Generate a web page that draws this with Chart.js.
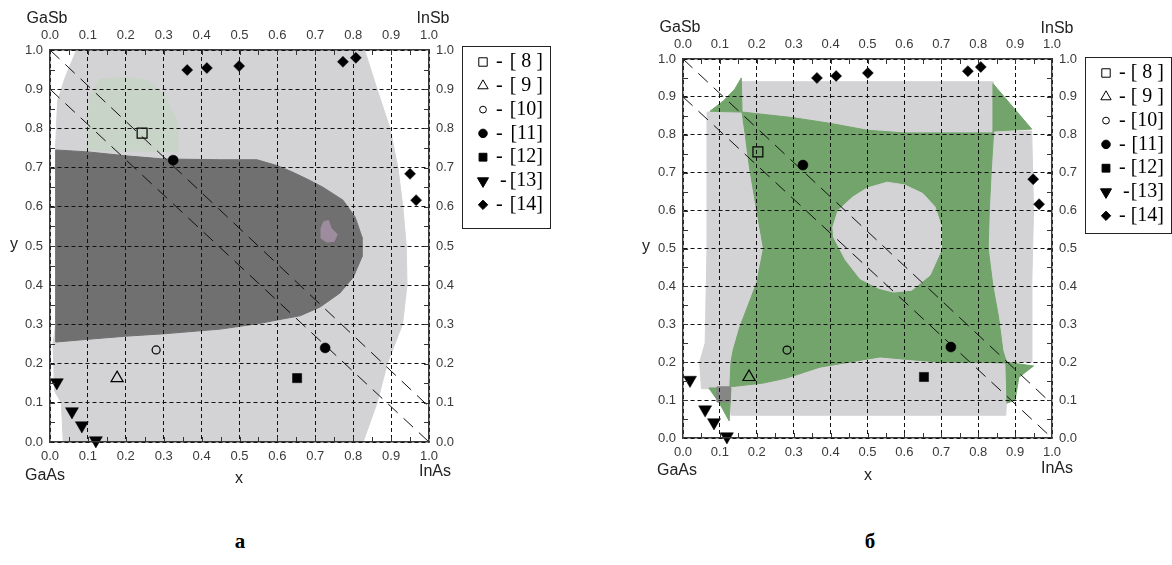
<!DOCTYPE html>
<html>
<head>
<meta charset="utf-8">
<script src="https://cdn.jsdelivr.net/npm/chart.js@4/dist/chart.umd.min.js"></script>
<style>
  body { margin: 0; background: #fff; width: 1172px; height: 565px; position: relative; overflow: hidden;
         font-family: "Liberation Sans", Arial, sans-serif; }
  canvas { position: absolute; top: 0; }
  #chartA { left: 0; }
  #chartB { left: 620px; }
  .lbl { position: absolute; font-size: 16px; color: #222; transform: translate(-50%, -50%); white-space: nowrap; }
  .let { position: absolute; font-family: "Liberation Serif", serif; font-weight: bold; font-size: 21px;
         transform: translate(-50%, -50%); }
</style>
</head>
<body>
<canvas id="chartA" width="560" height="480"></canvas>
<canvas id="chartB" width="552" height="480"></canvas>

<div class="lbl" style="left:47px;top:18px">GaSb</div>
<div class="lbl" style="left:433px;top:18px">InSb</div>
<div class="lbl" style="left:45px;top:475px">GaAs</div>
<div class="lbl" style="left:435px;top:471px">InAs</div>
<div class="lbl" style="left:239px;top:478px">x</div>
<div class="lbl" style="left:14px;top:244px">y</div>

<div class="lbl" style="left:680px;top:27px">GaSb</div>
<div class="lbl" style="left:1057px;top:28px">InSb</div>
<div class="lbl" style="left:677px;top:470px">GaAs</div>
<div class="lbl" style="left:1057px;top:468px">InAs</div>
<div class="lbl" style="left:868px;top:475px">x</div>
<div class="lbl" style="left:646px;top:246px">y</div>

<div class="let" style="left:240px;top:541px">а</div>
<div class="let" style="left:870px;top:541px">б</div>

<script>
// axis ticks
const tickValues = [0, 0.1, 0.2, 0.3, 0.4, 0.5, 0.6, 0.7, 0.8, 0.9, 1.0];
const tickLabels = ['0.0', '0.1', '0.2', '0.3', '0.4', '0.5', '0.6', '0.7', '0.8', '0.9', '1.0'];
const minorTickValues = [0.05, 0.1, 0.15, 0.2, 0.25, 0.3, 0.35, 0.4, 0.45, 0.5, 0.55, 0.6, 0.65, 0.7, 0.75, 0.8, 0.85, 0.9, 0.95];

// legend
const refLabels = ['[ 8 ]', '[ 9 ]', '[10]', '[11]', '[12]', '[13]', '[14]'];

// isoperiodic lines (x, y)
const lineGaSb = [[0, 1.0], [1.0, 0.09]];
const lineInAs = [[0, 0.9], [1.0, 0]];

// panel а - literature points
const aRef8 = [[0.243, 0.788]];
const aRef9 = [[0.177, 0.163]];
const aRef10 = [[0.28, 0.235]];
const aRef11 = [[0.325, 0.719], [0.726, 0.24]];
const aRef12 = [[0.652, 0.163]];
const aRef13 = [[0.018, 0.152], [0.058, 0.078], [0.084, 0.042], [0.121, 0.004]];
const aRef14 = [[0.362, 0.949], [0.414, 0.954], [0.499, 0.959], [0.773, 0.97], [0.807, 0.98], [0.95, 0.684], [0.966, 0.617]];

// panel а - regions
const aLight = [[0.07, 1.0], [0.83, 1.0], [0.863, 0.9], [0.897, 0.8], [0.918, 0.7], [0.931, 0.6], [0.94, 0.5],
  [0.942, 0.4], [0.93, 0.3], [0.89, 0.2], [0.863, 0.1], [0.826, 0.0], [0.035, 0.0], [0.03, 0.1], [0.012, 0.13],
  [0.008, 0.25], [0.015, 0.3], [0.015, 0.76], [0.02, 0.87], [0.04, 0.93], [0.07, 1.0]];
const aPale = [[0.105, 0.88], [0.13, 0.925], [0.2, 0.93], [0.26, 0.922], [0.3, 0.885], [0.335, 0.82],
  [0.338, 0.74], [0.1, 0.745], [0.1, 0.82], [0.105, 0.88]];
const aDark = [[0.015, 0.745], [0.1, 0.74], [0.2, 0.73], [0.3, 0.722], [0.45, 0.72], [0.546, 0.72], [0.6, 0.705],
  [0.641, 0.688], [0.68, 0.67], [0.72, 0.65], [0.773, 0.617], [0.805, 0.574], [0.823, 0.523], [0.823, 0.472],
  [0.8, 0.42], [0.765, 0.38], [0.712, 0.344], [0.66, 0.322], [0.62, 0.315], [0.55, 0.302], [0.45, 0.288],
  [0.3, 0.276], [0.2, 0.27], [0.1, 0.262], [0.015, 0.255], [0.015, 0.745]];
const aPink = [[0.715, 0.545], [0.722, 0.562], [0.735, 0.565], [0.742, 0.545], [0.758, 0.53], [0.75, 0.512],
  [0.73, 0.51], [0.715, 0.52], [0.715, 0.545]];

// panel б - literature points
const bRef8 = [[0.203, 0.755]];
const bRef9 = [[0.179, 0.161]];
const bRef10 = [[0.282, 0.232]];
const bRef11 = [[0.325, 0.72], [0.726, 0.24]];
const bRef12 = [[0.653, 0.161]];
const bRef13 = [[0.019, 0.153], [0.06, 0.075], [0.084, 0.041], [0.119, 0.004]];
const bRef14 = [[0.363, 0.95], [0.415, 0.955], [0.501, 0.963], [0.772, 0.968], [0.807, 0.979], [0.949, 0.683], [0.965, 0.617]];

// panel б - regions
const bLight = [[0.155, 0.94], [0.84, 0.94], [0.84, 0.81], [0.945, 0.81], [0.95, 0.6], [0.945, 0.4], [0.945, 0.2],
  [0.88, 0.2], [0.875, 0.06], [0.13, 0.06], [0.125, 0.13], [0.05, 0.13], [0.045, 0.2], [0.06, 0.25],
  [0.065, 0.5], [0.065, 0.86], [0.155, 0.86], [0.155, 0.94]];
const bGreen = [[0.16, 0.86], [0.3, 0.845], [0.4, 0.83], [0.5, 0.812], [0.6, 0.805], [0.84, 0.805], [0.84, 0.935],
  [0.945, 0.815], [0.842, 0.81], [0.835, 0.7], [0.83, 0.6], [0.827, 0.5], [0.84, 0.4], [0.855, 0.32],
  [0.867, 0.23], [0.877, 0.2], [0.95, 0.19], [0.91, 0.16], [0.9, 0.1], [0.878, 0.092], [0.875, 0.198],
  [0.8, 0.2], [0.7, 0.2], [0.6, 0.208], [0.534, 0.214], [0.45, 0.2], [0.371, 0.187], [0.28, 0.158],
  [0.218, 0.145], [0.127, 0.135], [0.13, 0.2], [0.136, 0.232], [0.154, 0.293], [0.2, 0.41], [0.218, 0.5],
  [0.195, 0.628], [0.18, 0.715], [0.168, 0.805], [0.16, 0.86], [0.073, 0.862], [0.11, 0.89], [0.14, 0.92],
  [0.158, 0.95], [0.16, 0.86]];
const bHole = [[0.553, 0.675], [0.6, 0.668], [0.65, 0.645], [0.683, 0.61], [0.7, 0.56], [0.7, 0.496], [0.67, 0.43],
  [0.62, 0.39], [0.57, 0.385], [0.53, 0.395], [0.48, 0.42], [0.44, 0.47], [0.408, 0.53], [0.406, 0.557],
  [0.42, 0.6], [0.46, 0.636], [0.5, 0.66], [0.553, 0.675]];
const bGreenCorner = [[0.07, 0.132], [0.13, 0.132], [0.125, 0.045], [0.1, 0.09], [0.07, 0.132]];
const bDarkBit = [[0.092, 0.135], [0.127, 0.135], [0.127, 0.095], [0.092, 0.095], [0.092, 0.135]];

const LIGHT = '#d3d2d5';
const PALE = '#c9d4c8';
const DARK = '#707070';
const GREEN = '#72a46b';

const toXY = arr => arr.map(p => ({ x: p[0], y: p[1] }));

function region(poly, color, order) {
  return {
    type: 'line', data: toXY(poly), fill: 'shape', backgroundColor: color, borderColor: color,
    borderWidth: 1, pointRadius: 0, tension: 0, order: order
  };
}

function dashLine(pts) {
  return {
    type: 'line', data: toXY(pts), fill: false, borderColor: '#111', borderWidth: 1,
    borderDash: [13, 8], pointRadius: 0, order: 2
  };
}

// marker styles per reference, same order as refLabels
const refStyles = [
  { style: 'rect', r: 7, filled: false, rot: 0 },
  { style: 'triangle', r: 7, filled: false, rot: 0 },
  { style: 'circle', r: 4, filled: false, rot: 0 },
  { style: 'circle', r: 5, filled: true, rot: 0 },
  { style: 'rect', r: 6.5, filled: true, rot: 0 },
  { style: 'triangle', r: 7.5, filled: true, rot: 180 },
  { style: 'rectRot', r: 5.5, filled: true, rot: 0 }
];

function markers(pts, st) {
  return {
    type: 'scatter', data: toXY(pts), showLine: false, clip: false, order: 0,
    pointStyle: st.style, pointRadius: st.r, pointRotation: st.rot,
    pointBackgroundColor: st.filled ? '#000' : 'rgba(0,0,0,0)',
    pointBorderColor: '#000', pointBorderWidth: st.filled ? 0.5 : 1.2
  };
}

const innerTicks = {
  id: 'innerTicks',
  afterDraw(chart) {
    const { ctx, chartArea: a, scales } = chart;
    ctx.save();
    ctx.strokeStyle = '#333';
    ctx.lineWidth = 1;
    ctx.beginPath();
    minorTickValues.forEach(v => {
      const px = Math.round(scales.x.getPixelForValue(v)) + 0.5;
      const py = Math.round(scales.y.getPixelForValue(v)) + 0.5;
      ctx.moveTo(px, a.top); ctx.lineTo(px, a.top + 5);
      ctx.moveTo(px, a.bottom); ctx.lineTo(px, a.bottom - 5);
      ctx.moveTo(a.left, py); ctx.lineTo(a.left + 5, py);
      ctx.moveTo(a.right, py); ctx.lineTo(a.right - 5, py);
    });
    ctx.stroke();
    ctx.restore();
  }
};

const refLegend = {
  id: 'refLegend',
  afterDraw(chart, args, opts) {
    const ctx = chart.ctx;
    const b = opts.box;
    ctx.save();
    ctx.fillStyle = '#fff';
    ctx.fillRect(b.x, b.y, b.w, b.h);
    ctx.strokeStyle = '#222';
    ctx.lineWidth = 1;
    ctx.strokeRect(b.x + 0.5, b.y + 0.5, b.w, b.h);
    refLabels.forEach((txt, i) => {
      const st = refStyles[i];
      const cy = b.y + 16 + i * 23.8;
      ctx.fillStyle = st.filled ? '#000' : 'rgba(0,0,0,0)';
      ctx.strokeStyle = '#000';
      Chart.helpers.drawPoint(ctx, {
        pointStyle: st.style, radius: st.r * 0.85, rotation: st.rot,
        borderWidth: st.filled ? 0.5 : 1.2
      }, b.x + 21, cy);
      ctx.fillStyle = '#000';
      ctx.font = '20px "Liberation Serif", serif';
      ctx.textBaseline = 'middle';
      ctx.textAlign = 'left';
      ctx.fillText('-', i === 5 ? b.x + 38 : b.x + 34, cy);
      ctx.textAlign = 'right';
      ctx.fillText(txt, b.x + b.w - 7, cy);
    });
    ctx.restore();
  }
};

function axis(position, size, withGrid) {
  const horizontal = position === 'top' || position === 'bottom';
  return {
    type: 'linear', position: position, min: 0, max: 1,
    afterBuildTicks: s => { s.ticks = tickValues.map(v => ({ value: v })); },
    afterFit: s => { if (horizontal) s.height = size; else s.width = size; },
    ticks: {
      autoSkip: false, padding: 7, color: '#3a3a3a', maxRotation: 0,
      font: { family: '"Liberation Sans", Arial, sans-serif', size: 13 },
      callback: (v, i) => tickLabels[i]
    },
    // grid and frame go above the filled regions
    grid: { display: withGrid, color: '#111', lineWidth: 1, drawTicks: false, z: 1 },
    border: { display: true, color: '#3a3a3a', width: 1.5, dash: [4, 3], z: 1 }
  };
}

function makePanel(id, datasets, sizes, legendBox) {
  new Chart(document.getElementById(id), {
    type: 'scatter',
    data: { datasets: datasets },
    options: {
      responsive: false, animation: false, devicePixelRatio: 1,
      layout: { padding: { right: sizes.padRight, left: 0, top: 0, bottom: 0 } },
      plugins: { legend: { display: false }, tooltip: { enabled: false }, refLegend: { box: legendBox } },
      scales: {
        x: axis('bottom', sizes.bottom, true),
        x2: axis('top', sizes.top, false),
        y: axis('left', sizes.left, true),
        y2: axis('right', sizes.right, false)
      }
    },
    plugins: [innerTicks, refLegend]
  });
}

const aSets = [
  region(aLight, LIGHT, 10),
  region(aPale, PALE, 9),
  region(aDark, DARK, 8),
  region(aPink, '#9c8c9e', 7),
  dashLine(lineGaSb),
  dashLine(lineInAs),
  markers(aRef8, refStyles[0]),
  markers(aRef9, refStyles[1]),
  markers(aRef10, refStyles[2]),
  markers(aRef11, refStyles[3]),
  markers(aRef12, refStyles[4]),
  markers(aRef13, refStyles[5]),
  markers(aRef14, refStyles[6])
];

const bSets = [
  region(bLight, LIGHT, 10),
  region(bGreen, GREEN, 9),
  region(bHole, LIGHT, 8),
  region(bGreenCorner, GREEN, 8),
  region(bDarkBit, '#868686', 7),
  dashLine(lineGaSb),
  dashLine(lineInAs),
  markers(bRef8, refStyles[0]),
  markers(bRef9, refStyles[1]),
  markers(bRef10, refStyles[2]),
  markers(bRef11, refStyles[3]),
  markers(bRef12, refStyles[4]),
  markers(bRef13, refStyles[5]),
  markers(bRef14, refStyles[6])
];

makePanel('chartA', aSets, { left: 50, right: 41, top: 50, bottom: 38, padRight: 90 },
  { x: 462, y: 46, w: 88, h: 182 });
makePanel('chartB', bSets, { left: 63, right: 38, top: 59, bottom: 42, padRight: 82 },
  { x: 465, y: 57, w: 86, h: 176 });
</script>
</body>
</html>
